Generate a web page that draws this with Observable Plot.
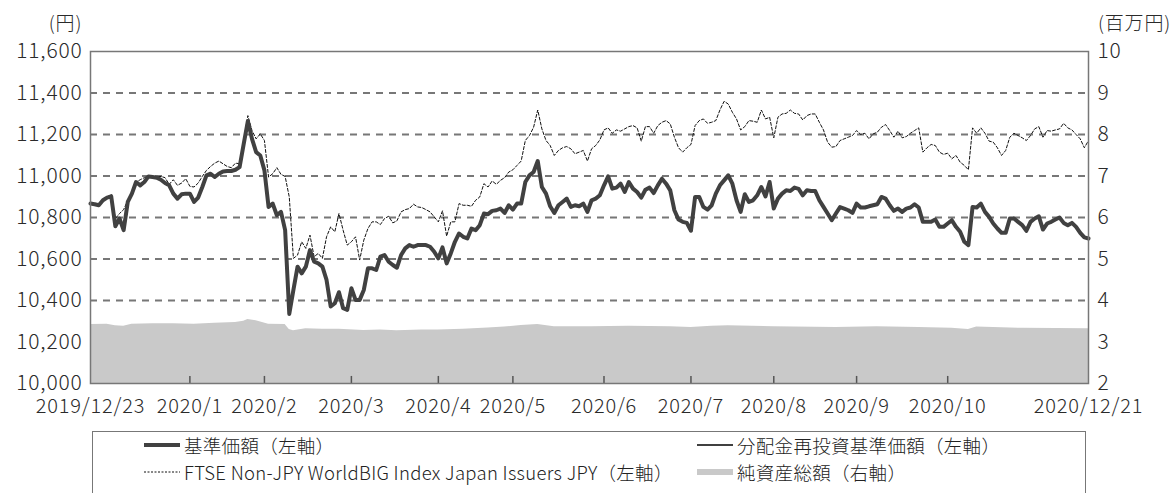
<!DOCTYPE html>
<html><head><meta charset="utf-8">
<script src="https://cdn.jsdelivr.net/npm/d3@7"></script>
<script src="https://cdn.jsdelivr.net/npm/@observablehq/plot@0.6"></script>
<style>
body{margin:0;background:#fff;font-family:"Noto Sans CJK JP","Noto Sans",sans-serif;color:#222}
#chart{position:relative;width:1173px;height:493px;overflow:hidden;background:#fff}
#chart svg text{font-weight:300;letter-spacing:0.8px}
#legend{position:absolute;left:92px;top:431px;width:994px;height:90px;border:1px solid #777;box-sizing:border-box}
.item{position:absolute;font-size:18.5px;font-weight:300;height:22px;line-height:22px;white-space:nowrap;display:flex;align-items:center;color:#222;letter-spacing:0.3px}
.item svg{margin-right:4px}
.item span{display:inline-block;height:22px;line-height:22px;overflow:visible}
</style></head><body>
<div id="chart"></div>
<script>
// Business-day index 0 = 2019/12/23 ... 241 = 2020/12/21
const tickIdx = [0, 24, 42, 63, 84, 102, 124, 145, 165, 185, 207, 241];
const tickLabels = ["2019/12/23","2020/1","2020/2","2020/3","2020/4","2020/5","2020/6","2020/7","2020/8","2020/9","2020/10","2020/12/21"];
const monthEndIdx = [24, 42, 63, 84, 102, 124, 145, 165, 185, 207];
const leftTicks = [10000,10200,10400,10600,10800,11000,11200,11400,11600];
const gridVals = [10200,10400,10600,10800,11000,11200,11400];
const rightTicks = [2,3,4,5,6,7,8,9,10];

// 基準価額 (daily, index 0..241)
const nav = [
10867,10864,10859,10883,10896,10902,10758,10795,10739,10875,
10915,10971,10955,10971,10998,10995,10992,10982,10966,10955,
10915,10891,10912,10915,10915,10875,10896,10947,11003,11011,
10995,11011,11022,11024,11024,11030,11043,11155,11265,11179,
11115,11099,11027,10851,10867,10811,10827,10739,10335,10451,
10563,10531,10563,10643,10587,10579,10563,10499,10371,10387,
10440,10363,10355,10459,10403,10403,10451,10555,10555,10547,
10611,10619,10587,10571,10558,10619,10651,10667,10659,10667,
10667,10667,10659,10635,10603,10656,10579,10627,10683,10723,
10707,10699,10747,10739,10763,10819,10816,10832,10835,10843,
10822,10859,10838,10867,10867,10971,11003,11019,11072,10947,
10915,10854,10822,10859,10875,10891,10851,10859,10854,10867,
10827,10883,10891,10907,10955,10998,10939,10944,10963,10923,
10971,10939,10923,10896,10934,10944,10918,10955,10987,10963,
10931,10835,10790,10779,10774,10736,10899,10899,10851,10838,
10859,10915,10955,10979,11003,10963,10883,10827,10912,10875,
10883,10907,10947,10902,10971,10843,10891,10915,10931,10928,
10944,10938,10907,10931,10928,10928,10883,10851,10819,10787,
10819,10850,10843,10835,10822,10867,10848,10848,10854,10859,
10864,10899,10891,10859,10832,10843,10827,10843,10848,10864,
10848,10779,10779,10779,10790,10755,10755,10771,10787,10755,
10731,10683,10667,10851,10848,10867,10827,10803,10771,10747,
10726,10726,10795,10795,10779,10763,10736,10779,10795,10806,
10742,10771,10779,10790,10800,10774,10763,10774,10755,10726,
10704,10699];

// 分配金再投資基準価額 (no distributions: coincides with 基準価額)
const reinvest = nav;

// FTSE Non-JPY WorldBIG Index Japan Issuers JPY
const bench = [
10867,10866,10862,10886,10898,10912,10795,10819,10838,10883,
10923,10971,10982,10992,10998,10998,10995,10998,10992,10960,
10982,10955,10966,10987,10950,10947,10966,10998,11027,11046,
11062,11072,11059,11046,11040,11062,11059,11171,11291,11219,
11179,11203,11171,10995,11011,11040,11008,10998,10899,10603,
10619,10683,10651,10715,10611,10627,10603,10707,10755,10731,
10819,10739,10667,10683,10707,10595,10691,10747,10779,10779,
10766,10795,10806,10774,10784,10827,10838,10843,10864,10851,
10848,10838,10827,10803,10779,10832,10710,10779,10779,10867,
10859,10859,10854,10883,10899,10963,10947,10976,10960,10979,
10992,11019,11030,11051,11072,11171,11195,11235,11318,11227,
11171,11147,11099,11123,11136,11142,11131,11107,11115,11123,
11072,11131,11147,11174,11222,11232,11206,11222,11216,11227,
11238,11243,11232,11168,11238,11238,11206,11243,11259,11267,
11251,11187,11136,11115,11136,11152,11243,11267,11275,11254,
11259,11267,11318,11360,11347,11307,11275,11222,11238,11267,
11264,11259,11318,11275,11283,11184,11283,11299,11302,11318,
11302,11299,11270,11291,11299,11299,11259,11222,11163,11139,
11142,11171,11179,11187,11195,11219,11200,11206,11179,11203,
11211,11235,11248,11219,11187,11216,11184,11190,11206,11219,
11232,11115,11136,11152,11147,11115,11104,11110,11083,11099,
11067,11051,11030,11232,11206,11232,11206,11168,11163,11136,
11099,11123,11187,11206,11195,11184,11171,11195,11227,11238,
11187,11219,11216,11222,11227,11254,11232,11222,11200,11179,
11136,11171];

// 純資産総額 (百万円, right axis)
const assetIdx = [0,4,6,8,10,15,20,25,30,35,37,38,40,43,47,48,49,52,56,60,66,70,74,80,84,90,96,100,104,108,112,121,130,140,145,150,154,165,180,190,200,208,212,214,225,241];
const assetVal = [3.42,3.43,3.39,3.38,3.43,3.44,3.44,3.43,3.45,3.47,3.50,3.54,3.51,3.43,3.42,3.30,3.27,3.32,3.31,3.31,3.28,3.29,3.27,3.29,3.29,3.31,3.34,3.36,3.40,3.42,3.37,3.37,3.38,3.37,3.35,3.38,3.39,3.37,3.35,3.37,3.35,3.33,3.30,3.36,3.33,3.32];

// right axis (2..10) maps onto left axis (10000..11600)
const toLeft = v => 10000 + (v - 2) * 200;
const fromLeft = y => Math.round((y - 10000) / 200 + 2);

const idx = nav.map((_, i) => i);
const lineRows = idx.map(i => ({i, nav: nav[i], re: reinvest[i], bench: bench[i]}));
const assetRows = assetIdx.map((i, k) => ({i, v: toLeft(assetVal[k])}));
const labelMap = new Map(tickIdx.map((d, k) => [d, tickLabels[k]]));

const font = '"Noto Sans CJK JP", "Noto Sans", sans-serif';
const chart = Plot.plot({
  width: 1173, height: 420,
  marginLeft: 90, marginRight: 85, marginTop: 51, marginBottom: 37,
  x: {domain: [0, 241]},
  y: {domain: [10000, 11600]},
  style: {fontFamily: font, fontSize: "21px", color: "#2a2a2a", background: "white", overflow: "visible"},
  marks: [
    Plot.gridY(gridVals, {stroke: "#777", strokeOpacity: 1, strokeWidth: 2, strokeDasharray: "7,6"}),
    Plot.areaY(assetRows, {x: "i", y1: 10000, y2: "v", fill: "#c9c9c9"}),
    Plot.line(lineRows, {x: "i", y: "bench", stroke: "#111", strokeWidth: 1, strokeDasharray: "3,2"}),
    Plot.line(lineRows, {x: "i", y: "re", stroke: "#000", strokeWidth: 1.2}),
    Plot.line(lineRows, {x: "i", y: "nav", stroke: "#414141", strokeWidth: 4, strokeLinejoin: "round"}),
    Plot.ruleX(monthEndIdx, {y1: 10000, y2: 10034, stroke: "#555", strokeWidth: 1.5}),
    Plot.frame({stroke: "#777", strokeWidth: 1.5}),
    Plot.axisY(leftTicks, {anchor: "left", tickSize: 0, tickPadding: 8, tickFormat: d3.format(","), label: null, fontSize: 21}),
    Plot.axisY(rightTicks.map(toLeft), {anchor: "right", tickSize: 0, tickPadding: 9, tickFormat: d => String(fromLeft(d)), label: null, fontSize: 21}),
    Plot.axisX(tickIdx, {anchor: "bottom", tickSize: 0, tickPadding: 15, tickFormat: d => labelMap.get(d), label: null, fontSize: 20}),
    Plot.text(["(円)"], {text: d => d, frameAnchor: "top-left", dx: -25, dy: -35, fontSize: 19, textAnchor: "middle", fill: "#2a2a2a"}),
    Plot.text(["(百万円)"], {text: d => d, frameAnchor: "top-right", dx: 46, dy: -35, fontSize: 19, textAnchor: "middle", fill: "#2a2a2a"})
  ]
});
const host = document.getElementById("chart");
host.appendChild(chart);

const legend = document.createElement("div");
legend.id = "legend";
host.appendChild(legend);
const items = [
  {label: "基準価額（左軸）", x: 51, y: 2, stroke: "#414141", w: 4, dash: null},
  {label: "分配金再投資基準価額（左軸）", x: 604, y: 2, stroke: "#000", w: 1.5, dash: null},
  {label: "FTSE Non-JPY WorldBIG Index Japan Issuers JPY（左軸）", x: 51, y: 29, stroke: "#111", w: 1, dash: "2,1.5"},
  {label: "純資産総額（右軸）", x: 604, y: 29, stroke: "#c9c9c9", w: 6, dash: null}
];
for (const it of items) {
  const d = document.createElement("div");
  d.className = "item";
  d.style.left = it.x + "px";
  d.style.top = it.y + "px";
  d.innerHTML = `<svg width="36" height="10"><line x1="0" x2="36" y1="5" y2="5" stroke="${it.stroke}" stroke-width="${it.w}" ${it.dash ? `stroke-dasharray="${it.dash}"` : ""}/></svg><span>${it.label}</span>`;
  legend.appendChild(d);
}
</script>
</body></html>
